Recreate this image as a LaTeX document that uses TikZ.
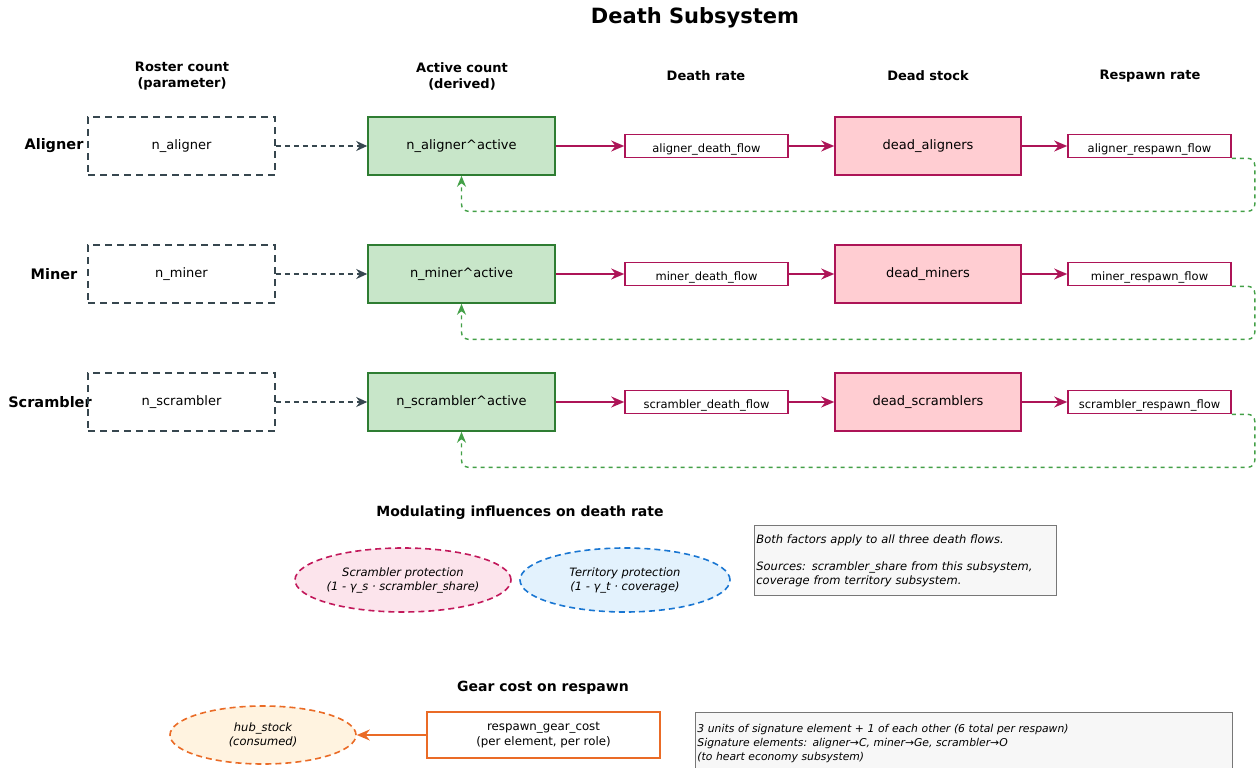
\documentclass[tikz,border=0pt]{standalone}
\usepackage{fontspec}
\setmainfont{DejaVu Sans}
\usetikzlibrary{arrows.meta,shapes.geometric}
\definecolor{slate}{HTML}{37474F}
\definecolor{actfill}{HTML}{C8E6C9}
\definecolor{actdraw}{HTML}{2E7D32}
\definecolor{loopgreen}{HTML}{43A047}
\definecolor{crim}{HTML}{AD1457}
\definecolor{deadfill}{HTML}{FFCDD2}
\definecolor{scrfill}{HTML}{FCE4EC}
\definecolor{scrdraw}{HTML}{C2185B}
\definecolor{terfill}{HTML}{E3F2FD}
\definecolor{terdraw}{HTML}{1976D2}
\definecolor{orfill}{HTML}{FFF3E0}
\definecolor{ordraw}{HTML}{E65100}
\definecolor{notefill}{HTML}{F7F7F7}
\definecolor{notedraw}{HTML}{777777}
\tikzset{
  txt/.style={font=\fontsize{11.5}{14}\selectfont},
  bigtxt/.style={font=\fontsize{13}{16}\selectfont},
  hdr/.style={font=\fontsize{13}{16}\selectfont\bfseries, align=center},
  rowlab/.style={font=\fontsize{14.5}{17}\selectfont\bfseries},
  roster/.style={draw=slate, line width=1.6pt, dash pattern=on 7pt off 5pt, minimum width=187pt, minimum height=58pt, bigtxt},
  active/.style={draw=actdraw, fill=actfill, line width=1.6pt, minimum width=187pt, minimum height=58pt, bigtxt},
  flowbox/.style={draw=crim, fill=white, line width=1.6pt, minimum width=163pt, minimum height=23pt, txt, inner sep=0pt, text height=13pt, text depth=0pt},
  dead/.style={draw=crim, fill=deadfill, line width=1.6pt, minimum width=186pt, minimum height=58pt, bigtxt},
  dasharr/.style={draw=slate, line width=1.4pt, dash pattern=on 5pt off 4pt, -{Stealth[length=11pt,width=10pt]}},
  flowarr/.style={draw=crim, line width=1.6pt, -{Stealth[length=13pt,width=11pt]}},
  looparr/.style={draw=loopgreen, line width=1.4pt, dash pattern=on 4pt off 4pt, rounded corners=7pt, -{Stealth[length=11pt,width=9pt]}},
  note/.style={draw=notedraw, fill=notefill, line width=0.8pt, align=left, font=\fontsize{11.5}{14}\selectfont\itshape, inner sep=2pt, anchor=north west},
  ell/.style={ellipse, line width=1.6pt, dash pattern=on 6pt off 4pt, align=center, font=\fontsize{11.5}{14}\selectfont\itshape, inner sep=0pt},
}
\begin{document}
\begin{tikzpicture}[x=1pt,y=-1pt]
\useasboundingbox (0,0) rectangle (1256,768);
\node[font=\fontsize{21}{25}\selectfont\bfseries] (title) at (695,18) {Death Subsystem};
\node[hdr] (h1) at (182,76) {Roster count\\(parameter)};
\node[hdr] (h2) at (462,76) {Active count\\(derived)};
\node[hdr] (h3) at (706,76) {Death rate};
\node[hdr] (h4) at (928,76) {Dead stock};
\node[hdr] (h5) at (1150,76) {Respawn rate};
\foreach \name/\lab/\y/\lx in {al/Aligner/146/54, mi/Miner/274/54, sc/Scrambler/402/50}{
  \node[rowlab] (lab\name) at (\lx,\y) {\lab};
}
\foreach \name/\role/\y in {al/aligner/146, mi/miner/274, sc/scrambler/402}{
  \node[roster] (ros\name) at (181.5,\y) {n\_\role};
  \node[active] (act\name) at (461.5,\y) {n\_\role\^{}active};
  \node[flowbox] (df\name) at (706.5,\y) {\role\_death\_flow};
  \node[dead] (dead\name) at (928,\y) {dead\_\role s};
  \node[flowbox] (rf\name) at (1149.5,\y) {\role\_respawn\_flow};
  \draw[dasharr] (ros\name.east) -- (act\name.west);
  \draw[flowarr] (act\name.east) -- (df\name.west);
  \draw[flowarr] (df\name.east) -- (dead\name.west);
  \draw[flowarr] (dead\name.east) -- (rf\name.west);
  \draw[looparr] (rf\name.south east) -- ++(23,0) -- ++(0,53) -| (act\name.south);
}
% modulating
\node[font=\fontsize{14}{17}\selectfont\bfseries] (modh) at (520,513) {Modulating influences on death rate};
\node[ell, draw=scrdraw, fill=scrfill, minimum width=210pt, minimum height=64pt] (scrp) at (403,580) {Scrambler protection\\(1 - γ\_s · scrambler\_share)};
\node[ell, draw=terdraw, fill=terfill, minimum width=210pt, minimum height=64pt] (terp) at (625,580) {Territory protection\\(1 - γ\_t · coverage)};
\node[note, minimum width=302pt, minimum height=70pt, text width=298pt] (note1) at (754,525) {\rule{0pt}{9pt}Both factors apply to all three death flows.\\[13pt]Sources: scrambler\_share from this subsystem,\\coverage from territory subsystem.\par\vspace{9pt}};
% gear
\node[font=\fontsize{14}{17}\selectfont\bfseries] (gearh) at (543,688) {Gear cost on respawn};
\node[ell, draw=ordraw!85, fill=orfill, minimum width=186pt, minimum height=58pt] (hub) at (263,735) {hub\_stock\\(consumed)};
\node[draw=ordraw!85, fill=white, line width=1.6pt, minimum width=233pt, minimum height=46pt, align=center, font=\fontsize{11.8}{14.5}\selectfont] (gear) at (543.5,735) {respawn\_gear\_cost\\(per element, per role)};
\draw[draw=ordraw!85, line width=1.8pt, -{Stealth[length=13pt,width=11pt]}] (gear.west) -- (hub.east);
\node[note, minimum width=537pt, text width=533pt, font=\fontsize{10.8}{14}\selectfont\itshape] (note2) at (695,712) {\rule{0pt}{18pt}3 units of signature element + 1 of each other (6 total per respawn)\\Signature elements: aligner→C, miner→Ge, scrambler→O\\(to heart economy subsystem)\rule[-20pt]{0pt}{20pt}};
\end{tikzpicture}
\end{document}
